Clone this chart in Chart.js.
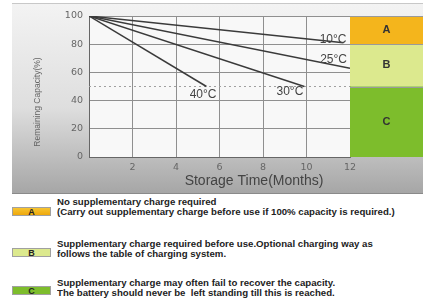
<!DOCTYPE html>
<html>
<head>
<meta charset="utf-8">
<script src="https://cdn.jsdelivr.net/npm/chart.js@4.4.0/dist/chart.umd.min.js"></script>
<style>
  body { margin: 0; background: #fff; width: 423px; height: 298px; overflow: hidden; position: relative; font-family: "Liberation Sans", Arial, sans-serif; }
  #panel { position: absolute; left: 12px; top: 3px; width: 411px; height: 189px; background: linear-gradient(#f3f3f3, #dedede 55%, #a6a6a6); border-top: 1px solid #c8c8c8; border-bottom: 1px solid #8a8a8a; }
  #c_chart { position: absolute; left: 0; top: 0; }
  .key { position: absolute; left: 12px; width: 39px; height: 9px; font: bold 9px "Liberation Sans", Arial, sans-serif; text-align: center; line-height: 8px; color: #222; box-sizing: border-box; border: 1px solid #a0a0a0; }
  .txt { position: absolute; left: 57px; font: bold 9px/10px "Liberation Sans", Arial, sans-serif; color: #222; white-space: nowrap; transform: scaleX(1.07); transform-origin: left top; }
</style>
</head>
<body>
<div id="panel"></div>
<canvas id="c_chart" width="423" height="195"></canvas>

<div class="key" style="top:207px;background:linear-gradient(#f7c431,#eea80c);">A</div>
<div class="txt" style="top:197px;">No supplementary charge required<br>(Carry out supplementary charge before use if 100% capacity is required.)</div>

<div class="key" style="top:248px;background:#dce98e;">B</div>
<div class="txt" style="top:239px;">Supplementary charge required before use.Optional charging way as<br>follows the table of charging system.</div>

<div class="key" style="top:286px;background:#7dbd2c;">C</div>
<div class="txt" style="top:278px;">Supplementary charge may often fail to recover the capacity.<br>The battery should never be&nbsp; left standing till this is reached.</div>

<script>
// storage curves, [month, capacity %]
const tempLabels = ['10°C', '25°C', '30°C', '40°C'];
const curve10 = [[0, 100], [11.7, 81]];
const curve25 = [[0, 100], [12, 63]];
const curve30 = [[0, 100], [9.9, 50]];
const curve40 = [[0, 100], [5.4, 50]];
const curves = [curve10, curve25, curve30, curve40];

const limitLine = [[0, 50], [12, 50]];

// charge zones on the right
const zoneNames = ['A', 'B', 'C'];
const zoneTop = [100, 80, 50];
const zoneBottom = [80, 50, 0];
const zoneColors = ['#f4b51c', '#dce98e', '#7dbd2c'];

const xTicks = [2, 4, 6, 8, 10, 12];
const yTicks = [0, 20, 40, 60, 80, 100];

// label offsets (px) from each curve end point
const labelOffsets = [[3, 0], [-3, -5], [-1, 8], [10, 11]];

function toPoints(arr) {
  return arr.map(p => ({ x: p[0], y: p[1] }));
}

const extras = {
  id: 'extras',
  beforeDraw(chart) {
    const { ctx, chartArea } = chart;
    ctx.save();
    ctx.fillStyle = '#f8f8f8';
    ctx.fillRect(chartArea.left, chartArea.top, chartArea.right - chartArea.left, chartArea.bottom - chartArea.top);
    ctx.restore();
  },
  afterDraw(chart) {
    const { ctx, chartArea, scales } = chart;
    const y = scales.y, x = scales.x;
    ctx.save();
    // zones
    zoneNames.forEach((name, i) => {
      const top = y.getPixelForValue(zoneTop[i]);
      const bot = y.getPixelForValue(zoneBottom[i]);
      ctx.fillStyle = zoneColors[i];
      ctx.fillRect(chartArea.right, top, chart.width - chartArea.right, bot - top);
      ctx.strokeStyle = '#9a9a9a';
      ctx.lineWidth = 1;
      ctx.beginPath();
      ctx.moveTo(chartArea.right, Math.round(top) + 0.5);
      ctx.lineTo(chart.width, Math.round(top) + 0.5);
      ctx.stroke();
      ctx.fillStyle = '#333';
      ctx.font = 'bold 11px "Liberation Sans", Arial, sans-serif';
      ctx.textAlign = 'center';
      ctx.textBaseline = 'middle';
      ctx.fillText(name, (chartArea.right + chart.width) / 2, (top + bot) / 2);
    });

    // temperature labels
    ctx.font = '12px "Liberation Sans", Arial, sans-serif';
    ctx.fillStyle = '#444';
    ctx.textAlign = 'right';
    ctx.textBaseline = 'alphabetic';
    curves.forEach((c, i) => {
      const end = c[c.length - 1];
      const px = x.getPixelForValue(end[0]) + labelOffsets[i][0];
      const py = y.getPixelForValue(end[1]) + labelOffsets[i][1];
      ctx.fillText(tempLabels[i], px, py);
    });

    // axis titles
    ctx.font = '14px "Liberation Sans", Arial, sans-serif';
    ctx.fillStyle = '#444';
    ctx.textAlign = 'center';
    ctx.fillText('Storage Time(Months)', 254, 185);

    ctx.translate(40, 102);
    ctx.rotate(-Math.PI / 2);
    ctx.font = '8.5px "Liberation Sans", Arial, sans-serif';
    ctx.fillStyle = '#666';
    ctx.fillText('Remaining Capacity(%)', 0, 0);
    ctx.restore();
  }
};

const datasets = curves.map((c, i) => ({
  label: tempLabels[i],
  data: toPoints(c),
  borderColor: '#3a3a3a',
  borderWidth: 1.5,
  pointRadius: 0,
  tension: 0
}));
datasets.push({
  label: 'limit',
  data: toPoints(limitLine),
  borderColor: '#a0a0a0',
  borderWidth: 1,
  borderDash: [2, 3],
  pointRadius: 0
});

const tickFont = { family: '"DejaVu Sans", sans-serif', size: 9.5 };

new Chart(document.getElementById('c_chart').getContext('2d'), {
  type: 'line',
  data: { datasets },
  options: {
    responsive: false,
    devicePixelRatio: 1,
    animation: false,
    layout: { padding: { left: 0, right: 73, top: 16, bottom: 0 } },
    plugins: { legend: { display: false }, tooltip: { enabled: false } },
    scales: {
      x: {
        type: 'linear',
        min: 0,
        max: 12,
        afterBuildTicks(scale) { scale.ticks = [0].concat(xTicks).map(v => ({ value: v })); },
        afterFit(scale) { scale.height = 38; },
        ticks: {
          padding: 5,
          color: '#666',
          font: tickFont,
          maxRotation: 0,
          callback: v => (v === 0 ? '' : v)
        },
        grid: { color: '#8f8f8f', lineWidth: 1, drawTicks: false },
        border: { color: '#666', width: 1 }
      },
      y: {
        min: 0,
        max: 100,
        afterBuildTicks(scale) { scale.ticks = yTicks.map(v => ({ value: v })); },
        afterFit(scale) { scale.width = 89; },
        ticks: { padding: 6, color: '#666', font: tickFont },
        grid: { color: '#8f8f8f', lineWidth: 1, drawTicks: false },
        border: { color: '#666', width: 1 }
      }
    }
  },
  plugins: [extras]
});
</script>
</body>
</html>
